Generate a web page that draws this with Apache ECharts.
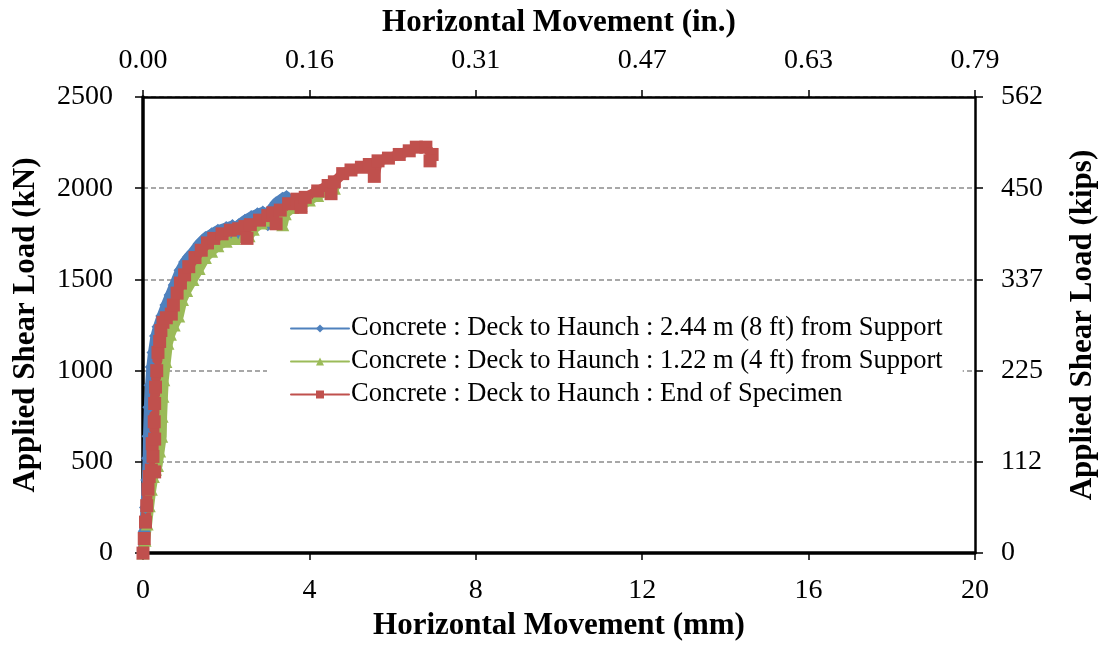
<!DOCTYPE html>
<html>
<head>
<meta charset="utf-8">
<title>Applied Shear Load vs Horizontal Movement</title>
<script src="https://cdn.jsdelivr.net/npm/echarts@6/dist/echarts.min.js"></script>
<style>
  html, body { margin: 0; padding: 0; background: #ffffff; }
  #chart { width: 1106px; height: 646px; }
</style>
</head>
<body>
<div id="chart"></div>
<script>
// Tick values and their labels on the secondary (imperial) axes
const mmTicks = [0, 4, 8, 12, 16, 20];
const inchLabels = ['0.00', '0.16', '0.31', '0.47', '0.63', '0.79'];
const kNTicks = [0, 500, 1000, 1500, 2000, 2500];
const kNLabels = ['0', '500', '1000', '1500', '2000', '2500'];
const kipLabels = ['0', '112', '225', '337', '450', '562'];

// Series names
const seriesNames = [
  'Concrete : Deck to Haunch : 2.44 m (8 ft) from Support',
  'Concrete : Deck to Haunch : 1.22 m (4 ft) from Support',
  'Concrete : Deck to Haunch : End of Specimen'
];

// [horizontal movement (mm), applied shear load (kN)]
const at244m = [
  [0, 0], [0.03, 120], [0.06, 250], [0.09, 400], [0.11, 520], [0.12, 640], [0.14, 800],
  [0.17, 920], [0.2, 1020], [0.24, 1100], [0.3, 1190], [0.36, 1240], [0.45, 1300],
  [0.55, 1360], [0.65, 1415], [0.75, 1470], [0.89, 1550], [1.0, 1595], [1.1, 1625],
  [1.2, 1650], [1.35, 1695], [1.5, 1730], [1.65, 1750], [1.8, 1770], [2.0, 1785],
  [2.15, 1795], [2.25, 1730], [2.3, 1800], [2.45, 1825], [2.6, 1845], [2.75, 1860],
  [2.88, 1870], [2.97, 1830], [3.0, 1800], [3.06, 1880], [3.2, 1920], [3.35, 1945],
  [3.45, 1955], [3.5, 1935]
];

const at122m = [
  [0, 0], [0.05, 70], [0.1, 160], [0.15, 260], [0.2, 350], [0.25, 420], [0.3, 460],
  [0.35, 480], [0.4, 560], [0.45, 640], [0.46, 750], [0.48, 860], [0.5, 950],
  [0.55, 1050], [0.6, 1150], [0.66, 1200], [0.75, 1250], [0.86, 1300], [0.95, 1390],
  [1.05, 1440], [1.2, 1500], [1.35, 1560], [1.5, 1620], [1.65, 1655], [1.8, 1685],
  [2.0, 1710], [2.2, 1725], [2.4, 1735], [2.55, 1740], [2.65, 1775], [2.85, 1810],
  [3.05, 1825], [3.25, 1840], [3.36, 1800], [3.42, 1860], [3.6, 1895], [3.8, 1905],
  [4.0, 1935], [4.2, 1960], [4.4, 1985], [4.6, 2000]
];

const atEnd = [
  [0, 0], [0.03, 80], [0.06, 170], [0.09, 260], [0.12, 350], [0.15, 420], [0.2, 455],
  [0.28, 445], [0.24, 530], [0.22, 600], [0.28, 625], [0.27, 720], [0.28, 820],
  [0.3, 910], [0.33, 1000], [0.36, 1100], [0.4, 1160], [0.43, 1220], [0.48, 1265],
  [0.56, 1290], [0.68, 1310], [0.73, 1360], [0.82, 1425], [0.9, 1480], [1.0, 1525],
  [1.1, 1570], [1.25, 1620], [1.4, 1660], [1.55, 1700], [1.7, 1725], [1.9, 1750],
  [2.1, 1770], [2.3, 1778], [2.45, 1790], [2.5, 1725], [2.58, 1800], [2.8, 1825],
  [3.0, 1850], [3.12, 1865], [3.2, 1805], [3.3, 1880], [3.5, 1915], [3.7, 1940],
  [3.8, 1895], [3.9, 1950], [4.2, 1985], [4.45, 2015], [4.52, 1970], [4.6, 2035],
  [4.8, 2080], [5.0, 2100], [5.25, 2115], [5.44, 2130], [5.56, 2065], [5.65, 2150],
  [5.9, 2165], [6.16, 2185], [6.4, 2205], [6.57, 2225], [6.8, 2225], [6.95, 2185],
  [6.9, 2150]
];

const FONT = '"Liberation Serif", "Times New Roman", serif';
const chart = echarts.init(document.getElementById('chart'), null, { renderer: 'canvas' });

// Densely logged readings: drawn as a thick band of overlapping markers
function curve(name, data, color, symbol) {
  return {
    name: name,
    type: 'line',
    data: data,
    color: color,
    symbol: symbol,
    symbolSize: 13,
    showSymbol: true,
    lineStyle: { color: color, width: 10, join: 'round', cap: 'round' },
    itemStyle: { color: color, borderWidth: 0 },
    emphasis: { disabled: true },
    animation: false,
    xAxisIndex: 0,
    yAxisIndex: 0
  };
}

const titleStyle = { fontFamily: FONT, fontSize: 31, fontWeight: 'bold', color: '#000' };

const option = {
  backgroundColor: '#ffffff',
  animation: false,
  textStyle: { fontFamily: FONT, color: '#000' },
  grid: { left: 143, right: 129, top: 97, bottom: 88, containLabel: false },
  legend: {
    orient: 'vertical',
    left: 267,
    top: 309,
    padding: [6, 20, 6, 23],
    backgroundColor: '#ffffff',
    itemWidth: 58,
    itemHeight: 10,
    itemGap: 6,
    lineStyle: { width: 2 },
    itemStyle: { borderWidth: 0 },
    textStyle: { fontFamily: FONT, fontSize: 26.5, color: '#000', padding: [0, 0, 0, -3] },
    data: seriesNames
  },
  xAxis: [
    {
      type: 'value', position: 'bottom', min: 0, max: 20, interval: 4,
      name: 'Horizontal Movement (mm)', nameLocation: 'middle', nameGap: 55,
      nameTextStyle: titleStyle,
      axisLine: { show: true, onZero: false, lineStyle: { color: '#000', width: 3.5 } },
      axisTick: { show: true, inside: false, length: 7, lineStyle: { color: '#000', width: 1.5 } },
      axisLabel: { fontFamily: FONT, fontSize: 28, color: '#000', margin: 24 },
      splitLine: { show: false }
    },
    {
      type: 'value', position: 'top', min: 0, max: 20, interval: 4,
      name: 'Horizontal Movement (in.)', nameLocation: 'middle', nameGap: 59,
      nameTextStyle: titleStyle,
      axisLine: { show: true, onZero: false, lineStyle: { color: '#000', width: 2.5 } },
      axisTick: { show: true, inside: false, length: 7, lineStyle: { color: '#000', width: 1.5 } },
      axisLabel: {
        fontFamily: FONT, fontSize: 28, color: '#000', margin: 22,
        formatter: function (v) { return inchLabels[mmTicks.indexOf(v)]; }
      },
      splitLine: { show: false }
    }
  ],
  yAxis: [
    {
      type: 'value', position: 'left', min: 0, max: 2500, interval: 500,
      name: 'Applied Shear Load (kN)', nameLocation: 'middle', nameGap: 102, nameRotate: 90,
      nameTextStyle: titleStyle,
      axisLine: { show: true, onZero: false, lineStyle: { color: '#000', width: 3.5 } },
      axisTick: { show: true, inside: false, length: 8, lineStyle: { color: '#000', width: 1.5 } },
      axisLabel: {
        fontFamily: FONT, fontSize: 28, color: '#000', margin: 30,
        formatter: function (v) { return kNLabels[kNTicks.indexOf(v)]; }
      },
      splitLine: { show: true, lineStyle: { color: '#8c8c8c', width: 1.5, type: [5, 3] } }
    },
    {
      type: 'value', position: 'right', min: 0, max: 2500, interval: 500,
      name: 'Applied Shear Load (kips)', nameLocation: 'middle', nameGap: 92, nameRotate: 90,
      nameTextStyle: titleStyle,
      axisLine: { show: true, onZero: false, lineStyle: { color: '#000', width: 2.5 } },
      axisTick: { show: true, inside: false, length: 8, lineStyle: { color: '#000', width: 1.5 } },
      axisLabel: {
        fontFamily: FONT, fontSize: 28, color: '#000', margin: 26,
        formatter: function (v) { return kipLabels[kNTicks.indexOf(v)]; }
      },
      splitLine: { show: false }
    }
  ],
  series: [
    curve(seriesNames[0], at244m, '#4F81BD', 'diamond'),
    curve(seriesNames[1], at122m, '#9BBB59', 'triangle'),
    curve(seriesNames[2], atEnd, '#C0504D', 'rect')
  ]
};

chart.setOption(option);
</script>
</body>
</html>
